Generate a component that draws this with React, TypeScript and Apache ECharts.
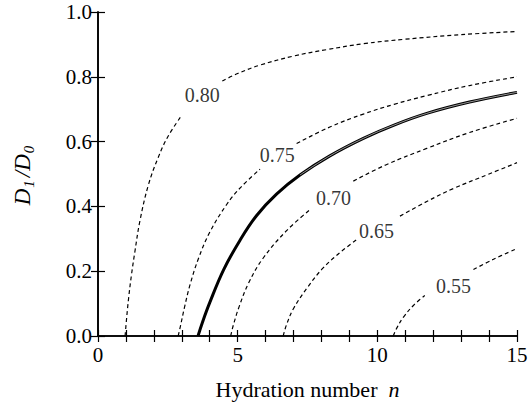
import React, { useEffect, useRef } from "react";
import * as echarts from "echarts";

// Data (x = hydration number n, y = D1/D0). null marks a gap under a label.
const curve080: (number[] | null)[] = [
  [0.97, 0], [1.03, 0.06], [1.1, 0.12], [1.2, 0.19], [1.32, 0.26], [1.5, 0.355], [1.8, 0.465], [2.15, 0.55],
  [2.5, 0.615], [2.99, 0.68],
  null,
  [4.45, 0.787], [5.0, 0.81], [5.8, 0.836], [7.0, 0.864], [8.2, 0.884], [9.5, 0.902], [11.0, 0.916],
  [13.0, 0.93], [15.0, 0.94],
];
const curve075: (number[] | null)[] = [
  [2.87, 0], [2.95, 0.03], [3.1, 0.09], [3.3, 0.16], [3.6, 0.24], [4.0, 0.32], [4.6, 0.405], [5.1, 0.458],
  [5.8, 0.515],
  null,
  [7.11, 0.594], [8.3, 0.645], [9.5, 0.685], [10.6, 0.715], [11.77, 0.742], [13.3, 0.773], [15.0, 0.8],
];
const curveSolid: number[][] = [
  [3.58, 0], [3.75, 0.045], [4.0, 0.103], [4.5, 0.205], [5.08, 0.295], [5.68, 0.372], [6.39, 0.438],
  [7.23, 0.497], [8.3, 0.556], [9.5, 0.61], [10.6, 0.651], [11.77, 0.687], [13.3, 0.722], [15.0, 0.752],
];
const curve070: (number[] | null)[] = [
  [4.75, 0], [4.85, 0.035], [5.05, 0.09], [5.4, 0.165], [5.91, 0.24], [6.75, 0.325], [7.59, 0.39],
  null,
  [9.14, 0.478], [10.3, 0.528], [11.77, 0.579], [13.3, 0.628], [15.0, 0.672],
];
const curve065: (number[] | null)[] = [
  [6.63, 0], [6.75, 0.035], [7.0, 0.085], [7.5, 0.15], [8.06, 0.21], [8.7, 0.26], [9.3, 0.3],
  null,
  [10.81, 0.37], [11.77, 0.415], [12.72, 0.455], [14.0, 0.5], [15.0, 0.535],
];
const curve055: (number[] | null)[] = [
  [10.57, 0], [10.7, 0.025], [10.95, 0.06], [11.3, 0.095], [11.7, 0.125],
  null,
  [13.44, 0.205], [14.16, 0.237], [15.0, 0.27],
];
const curveLabels: [number, number, string][] = [
  [3.73, 0.744, "0.80"],
  [6.42, 0.56, "0.75"],
  [8.43, 0.425, "0.70"],
  [9.97, 0.325, "0.65"],
  [12.73, 0.155, "0.55"],
];
const xTickLabels = [0, 5, 10, 15];
const yTickLabels = ["0.0", "0.2", "0.4", "0.6", "0.8", "1.0"];

const FONT = "Liberation Serif";

function splitSegments(arr: (number[] | null)[]): number[][][] {
  const out: number[][][] = [];
  let cur: number[][] = [];
  for (const p of arr) {
    if (p === null) {
      if (cur.length) out.push(cur);
      cur = [];
    } else cur.push(p);
  }
  if (cur.length) out.push(cur);
  return out;
}

export default function App() {
  const ref = useRef<HTMLDivElement>(null);
  useEffect(() => {
    document.body.style.margin = "0";
    if (!ref.current) return;
    const chart = echarts.init(ref.current, undefined, { renderer: "svg" });

    const dashed = [curve080, curve075, curve070, curve065, curve055];
    const series: any[] = [];
    dashed.forEach((c) => {
      splitSegments(c).forEach((seg) => {
        series.push({
          type: "line",
          data: seg,
          showSymbol: false,
          smooth: 0.4,
          silent: true,
          lineStyle: { color: "#000", width: 1.2, type: [4, 3] },
        });
      });
    });
    series.push({
      type: "line",
      data: curveSolid,
      showSymbol: false,
      smooth: 0.4,
      silent: true,
      lineStyle: { color: "#000", width: 3 },
    });
    series.push({
      type: "line",
      data: curveSolid.filter((p) => p[0] >= 7.23),
      showSymbol: false,
      smooth: 0.4,
      silent: true,
      lineStyle: { color: "#fff", width: 0.6 },
    });
    series.push({
      type: "scatter",
      data: curveLabels.map((l) => [l[0], l[1], l[2]]),
      symbolSize: 1,
      itemStyle: { color: "rgba(0,0,0,0)" },
      silent: true,
      label: {
        show: true,
        position: "inside",
        formatter: (p: any) => p.value[2],
        color: "#000",
        fontFamily: FONT,
        fontSize: 20,
      },
    });

    const xTickSet = new Set(xTickLabels);
    const axisCommon = {
      axisLine: { show: true, lineStyle: { color: "#000", width: 1.6 } },
      axisTick: { show: true, inside: true, length: 6, lineStyle: { color: "#000", width: 1.2 } },
      splitLine: { show: false },
    };

    chart.setOption({
      animation: false,
      backgroundColor: "#fff",
      textStyle: { fontFamily: FONT },
      grid: { left: 98, right: 11, top: 12, bottom: 67, containLabel: false, outerBoundsMode: "none" },
      xAxis: [
        {
          type: "value",
          min: 0,
          max: 15,
          interval: 5,
          position: "bottom",
          ...axisCommon,
          minorTick: { show: true, splitNumber: 5, length: 6, lineStyle: { color: "#000", width: 1.2 } },
          axisLabel: {
            color: "#000",
            fontFamily: FONT,
            fontSize: 21,
            margin: 8,
            formatter: (v: number) => (xTickSet.has(v) ? String(v) : ""),
          },
          name: "{r|Hydration number  }{i|n}",
          nameLocation: "middle",
          nameGap: 42,
          nameTextStyle: {
            color: "#000",
            fontFamily: FONT,
            fontSize: 22,
            rich: {
              r: { fontFamily: FONT, fontSize: 22, color: "#000" },
              i: { fontFamily: FONT, fontSize: 22, fontStyle: "italic", color: "#000" },
            },
          },
        },
        {
          type: "value",
          min: 0,
          max: 15,
          interval: 5,
          position: "top",
          ...axisCommon,
          minorTick: { show: true, splitNumber: 5, length: 6, lineStyle: { color: "#000", width: 1.2 } },
          axisLabel: { show: false },
        },
      ],
      yAxis: [
        {
          type: "value",
          min: 0,
          max: 1,
          interval: 0.2,
          position: "left",
          ...axisCommon,
          axisTick: { show: true, inside: true, length: 7, lineStyle: { color: "#000", width: 1.2 } },
          axisLabel: {
            color: "#000",
            fontFamily: FONT,
            fontSize: 21,
            margin: 6,
            formatter: (v: number) => yTickLabels[Math.round(v * 5)] ?? "",
          },
          name: "{d|D}{s|1}{d|/D}{s|0}",
          nameLocation: "middle",
          nameGap: 62,
          nameRotate: 90,
          nameTextStyle: {
            rich: {
              d: { fontFamily: FONT, fontSize: 23, fontStyle: "italic", color: "#000", lineHeight: 27 },
              s: {
                fontFamily: FONT,
                fontSize: 15,
                fontStyle: "italic",
                color: "#000",
                lineHeight: 13,
                verticalAlign: "bottom",
                padding: [0, 3, 0, 1],
              },
            },
          },
        },
        {
          type: "value",
          min: 0,
          max: 1,
          interval: 0.2,
          position: "right",
          ...axisCommon,
          axisTick: { show: true, inside: true, length: 7, lineStyle: { color: "#000", width: 1.2 } },
          axisLabel: { show: false },
        },
      ],
      series,
    });

    return () => chart.dispose();
  }, []);
  return <div ref={ref} style={{ width: 528, height: 403 }} />;
}
